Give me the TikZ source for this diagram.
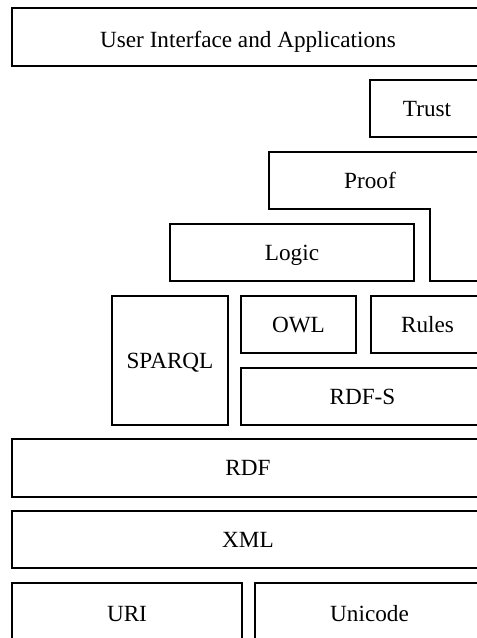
\documentclass[tikz,border=0pt]{standalone}
\usepackage{fontspec}
\setmainfont{Liberation Serif}
\begin{document}
\begin{tikzpicture}[x=1pt,y=-1pt,
  layer/.style={draw=black, line width=1.1pt, inner sep=0pt,
    font=\fontsize{23.2}{26}\selectfont, text height=15.4pt, text depth=0pt},
  lbl/.style={inner sep=0pt, font=\fontsize{23.2}{26}\selectfont,
    text height=15.4pt, text depth=0pt}]
\useasboundingbox (0,0) rectangle (477,638);
\clip (0,0) rectangle (477,638);
% top layer
\node[layer, minimum width=472pt, minimum height=58pt, text height=20pt] (ui) at (248,37) {User Interface and Applications};
\node[layer, minimum width=114pt, minimum height=57pt] (trust) at (427,108.5) {Trust};
% proof: stepped outline reaching down beside logic
\draw[line width=1.1pt] (484,152) -- (269,152) -- (269,209) -- (430,209) -- (430,281) -- (484,281);
\node[lbl] (proof) at (370,180.5) {Proof};
\node[layer, minimum width=244pt, minimum height=57pt] (logic) at (292,252.5) {Logic};
% middle layers
\node[layer, minimum width=116pt, minimum height=129pt] (sparql) at (170,360.5) {SPARQL};
\node[layer, minimum width=115pt, minimum height=57pt] (owl) at (298.5,324.5) {OWL};
\node[layer, minimum width=113pt, minimum height=57pt] (rules) at (427.5,324.5) {Rules};
\node[layer, minimum width=243pt, minimum height=57pt] (rdfs) at (362.5,396.5) {RDF-S};
% base layers
\node[layer, minimum width=472pt, minimum height=58pt] (rdf) at (248,468) {RDF};
\node[layer, minimum width=472pt, minimum height=57pt] (xml) at (248,539.5) {XML};
\node[layer, minimum width=230pt, minimum height=61pt] (uri) at (127,613.5) {URI};
\node[layer, minimum width=229pt, minimum height=61pt] (unicode) at (369.5,613.5) {Unicode};
\end{tikzpicture}
\end{document}
